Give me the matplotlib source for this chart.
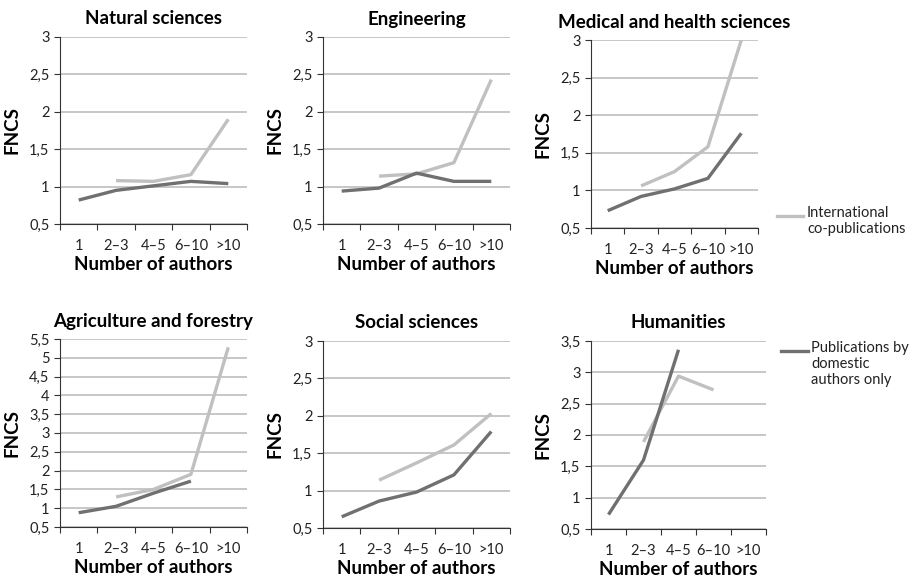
import matplotlib
matplotlib.use("Agg")
import matplotlib.pyplot as plt
from matplotlib.ticker import FixedLocator, NullFormatter, FixedFormatter
import numpy as np

plt.rcParams['font.family'] = ['Lato', 'DejaVu Sans']

categories = ["1", "2\u20133", "4\u20135", "6\u201310", ">10"]
nan = np.nan

titles = ["Natural sciences", "Engineering", "Medical and health sciences",
          "Agriculture and forestry", "Social sciences", "Humanities"]

domestic = [
    [0.82, 0.95, 1.01, 1.07, 1.04],
    [0.94, 0.98, 1.18, 1.07, 1.07],
    [0.73, 0.92, 1.02, 1.16, 1.76],
    [0.88, 1.05, 1.40, 1.72, nan],
    [0.65, 0.86, 0.98, 1.21, 1.79],
    [0.73, 1.60, 3.36, nan, nan],
]
international = [
    [nan, 1.08, 1.07, 1.16, 1.90],
    [nan, 1.14, 1.17, 1.32, 2.43],
    [nan, 1.06, 1.25, 1.58, 3.00],
    [nan, 1.30, 1.50, 1.90, 5.28],
    [nan, 1.14, 1.37, 1.61, 2.03],
    [nan, 1.89, 2.94, 2.72, nan],
]
ymax = [3, 3, 3, 5.5, 3, 3.5]

DARK = "#707070"
LIGHT = "#c0c0c0"
W, H = 911, 580

# axes boxes in pixels: left, right, top, bottom
boxes = [
    (60, 247, 37, 224),
    (323, 510, 37, 224),
    (591, 758, 40, 228),
    (60, 247, 339, 527),
    (323, 510, 341, 528),
    (591, 766, 341, 529),
]

fig = plt.figure(figsize=(W / 100, H / 100), dpi=100)
x = np.arange(len(categories))

for i, (l, r, t, b) in enumerate(boxes):
    ax = fig.add_axes([l / W, 1 - b / H, (r - l) / W, (b - t) / H])
    ax.plot(x, international[i], color=LIGHT, lw=2.4, solid_capstyle='butt', zorder=3)
    ax.plot(x, domestic[i], color=DARK, lw=2.4, solid_capstyle='butt', zorder=4)
    ax.set_xlim(-0.5, len(categories) - 0.5)
    ax.set_ylim(0.5, ymax[i])
    yt = np.arange(0.5, ymax[i] + 0.01, 0.5)
    ax.set_yticks(yt)
    ax.set_yticklabels([f"{v:g}".replace(".", ",") for v in yt])
    ax.yaxis.grid(True, color="#bdbdbd", lw=1.2)
    ax.set_axisbelow(True)
    ax.xaxis.set_major_locator(FixedLocator(np.arange(-0.5, len(categories), 1.0)))
    ax.xaxis.set_major_formatter(NullFormatter())
    ax.xaxis.set_minor_locator(FixedLocator(x))
    ax.xaxis.set_minor_formatter(FixedFormatter(categories))
    ax.tick_params(axis='x', which='minor', length=0, pad=11, labelsize=10.5, colors="#222222")
    ax.tick_params(axis='x', which='major', length=4, color="#333333")
    ax.tick_params(axis='y', length=4, labelsize=10.5, colors="#222222", color="#333333")
    for s in ("top", "right"):
        ax.spines[s].set_visible(False)
    for s in ("left", "bottom"):
        ax.spines[s].set_color("#333333")
    ax.set_title(titles[i], fontsize=13.5, fontweight='bold', pad=9)
    ax.set_xlabel("Number of authors", fontsize=13.5, fontweight='bold', labelpad=2)
    ax.set_ylabel("FNCS", fontsize=13.5, fontweight='bold', labelpad=6)

# legend entries placed beside the right column
fig.lines.append(plt.Line2D([777 / W, 803 / W], [1 - 216 / H, 1 - 216 / H],
                            color=LIGHT, lw=2.4, transform=fig.transFigure))
fig.text(807 / W, 1 - 206 / H, "International\nco-publications", fontsize=10.5,
         va='top', ha='left', color="#222222", linespacing=1.2)
fig.lines.append(plt.Line2D([781 / W, 808 / W], [1 - 351 / H, 1 - 351 / H],
                            color=DARK, lw=2.4, transform=fig.transFigure))
fig.text(811 / W, 1 - 341 / H, "Publications by\ndomestic\nauthors only", fontsize=10.5,
         va='top', ha='left', color="#222222", linespacing=1.2)

fig.savefig("out.png", dpi=100)
